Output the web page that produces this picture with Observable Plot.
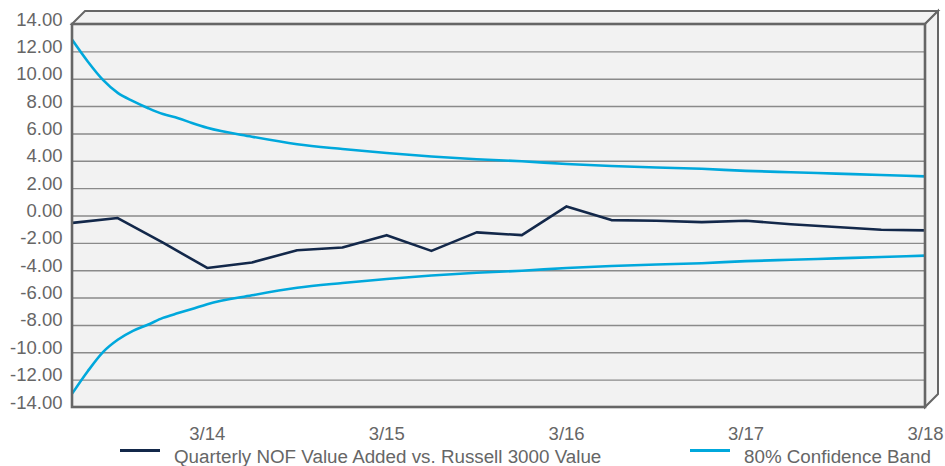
<!DOCTYPE html>
<html>
<head>
<meta charset="utf-8">
<script src="https://cdn.jsdelivr.net/npm/d3@7"></script>
<script src="https://cdn.jsdelivr.net/npm/@observablehq/plot@0.6"></script>
<style>
  html, body { margin: 0; padding: 0; background: #fff; }
  #chart { position: relative; width: 945px; height: 466px; overflow: hidden; font-family: "Liberation Sans", Arial, sans-serif; }
  #legend { position: absolute; left: 0; top: 440px; width: 945px; height: 26px; color: #666; font-size: 18.8px; line-height: 1; }
  #legend .sw { position: absolute; height: 3px; width: 40px; }
  #legend .lb { position: absolute; white-space: nowrap; }
</style>
</head>
<body>
<div id="chart"></div>
<script>
// ---- data ----
const quarters = ["2013-06-30","2013-09-30","2013-12-31","2014-03-31","2014-06-30","2014-09-30","2014-12-31",
  "2015-03-31","2015-06-30","2015-09-30","2015-12-31","2016-03-31","2016-06-30","2016-09-30","2016-12-31",
  "2017-03-31","2017-06-30","2017-09-30","2017-12-31","2018-03-31"];
const valueAdded = [-0.5, -0.15, -1.95, -3.8, -3.4, -2.5, -2.3, -1.4, -2.55, -1.2, -1.4, 0.7, -0.3, -0.35, -0.45,
  -0.35, -0.6, -0.8, -1.0, -1.05];

const bandDates = ["2013-06-30","2013-07-31","2013-08-31","2013-09-30","2013-10-31","2013-11-30","2013-12-31",
  "2014-01-31","2014-02-28","2014-03-31","2014-06-30","2014-09-30","2014-12-31","2015-03-31","2015-06-30",
  "2015-09-30","2015-12-31","2016-03-31","2016-06-30","2016-09-30","2016-12-31","2017-03-31","2017-06-30",
  "2017-09-30","2017-12-31","2018-03-31"];
const bandUpper = [12.85, 11.3, 9.95, 9.0, 8.4, 7.9, 7.45, 7.15, 6.8, 6.45, 5.8, 5.25, 4.9, 4.6, 4.35,
  4.15, 4.0, 3.8, 3.65, 3.55, 3.45, 3.3, 3.2, 3.1, 3.0, 2.9];
const bandLower = [-12.95, -11.35, -9.95, -9.05, -8.4, -7.95, -7.45, -7.1, -6.8, -6.45, -5.8, -5.25, -4.9, -4.6, -4.35,
  -4.15, -4.0, -3.8, -3.65, -3.55, -3.45, -3.3, -3.2, -3.1, -3.0, -2.9];

const yTicks = [-14, -12, -10, -8, -6, -4, -2, 0, 2, 4, 6, 8, 10, 12, 14];
const xTicks = ["2014-03-31", "2015-03-31", "2016-03-31", "2017-03-31", "2018-03-31"];
const seriesNames = ["Quarterly NOF Value Added vs. Russell 3000 Value", "80% Confidence Band"];
const seriesColors = ["#13284a", "#00a8dc"];

// ---- build ----
const parse = d3.utcParse("%Y-%m-%d");
const nof = quarters.map((d, i) => ({date: parse(d), value: valueAdded[i]}));
const band = bandDates.map((d, i) => ({date: parse(d), upper: bandUpper[i], lower: bandLower[i]}));

const plot = Plot.plot({
  width: 945,
  height: 440,
  marginLeft: 72,
  marginRight: 20,
  marginTop: 24,
  marginBottom: 33,
  style: {fontFamily: '"Liberation Sans", Arial, sans-serif', fontSize: "18.5px", color: "#666", background: "transparent", overflow: "visible"},
  x: {type: "utc", domain: [parse(quarters[0]), parse(quarters[quarters.length - 1])]},
  y: {domain: [-14, 14]},
  marks: [
    Plot.frame({fill: "#f2f2f2", stroke: null}),
    Plot.ruleY(yTicks.filter(v => v > -14 && v < 14), {stroke: "#8a8a8a", strokeWidth: 1.4}),
    Plot.line(band, {x: "date", y: "upper", stroke: seriesColors[1], strokeWidth: 2.6, curve: "monotone-x"}),
    Plot.line(band, {x: "date", y: "lower", stroke: seriesColors[1], strokeWidth: 2.6, curve: "monotone-x"}),
    Plot.line(nof, {x: "date", y: "value", stroke: seriesColors[0], strokeWidth: 2.6}),
    Plot.axisY({ticks: yTicks, tickFormat: d => d.toFixed(2), tickSize: 0, tickPadding: 10, lineAnchor: "bottom", dy: 1, label: null, fill: "#666"}),
    Plot.axisX({ticks: xTicks.map(parse), tickFormat: d3.utcFormat("%-m/%y"), tickSize: 0, tickPadding: 19, label: null, fill: "#666"})
  ]
});

// 3D box decoration derived from the scales
const sx = plot.scale("x"), sy = plot.scale("y");
const x0 = Math.min(...sx.range), x1 = Math.max(...sx.range);
const yT = Math.min(...sy.range), yB = Math.max(...sy.range);
const dd = 13;
const svg = d3.select(plot);
const g = svg.append("g").attr("fill", "#f2f2f2").attr("stroke", "#666").attr("stroke-linejoin", "miter");
g.append("polygon")
  .attr("points", [[x0, yT], [x0 + dd, yT - dd], [x1 + dd, yT - dd], [x1, yT]].map(p => p.join(",")).join(" "))
  .attr("stroke-width", 2);
g.append("polygon")
  .attr("points", [[x1, yT], [x1 + dd, yT - dd], [x1 + dd, yB - dd], [x1, yB]].map(p => p.join(",")).join(" "))
  .attr("stroke-width", 2);
g.append("rect")
  .attr("x", x0).attr("y", yT).attr("width", x1 - x0).attr("height", yB - yT)
  .attr("fill", "none").attr("stroke-width", 2.6);

document.getElementById("chart").appendChild(plot);

// legend
const legend = d3.select("#chart").append("div").attr("id", "legend");
const items = [{sw: 120, lb: 174}, {sw: 690, lb: 744}];
items.forEach((it, i) => {
  legend.append("div").attr("class", "sw").style("left", it.sw + "px").style("top", "9px").style("background", seriesColors[i]);
  legend.append("div").attr("class", "lb").style("left", it.lb + "px").style("top", "8px").text(seriesNames[i]);
});
</script>
</body>
</html>
